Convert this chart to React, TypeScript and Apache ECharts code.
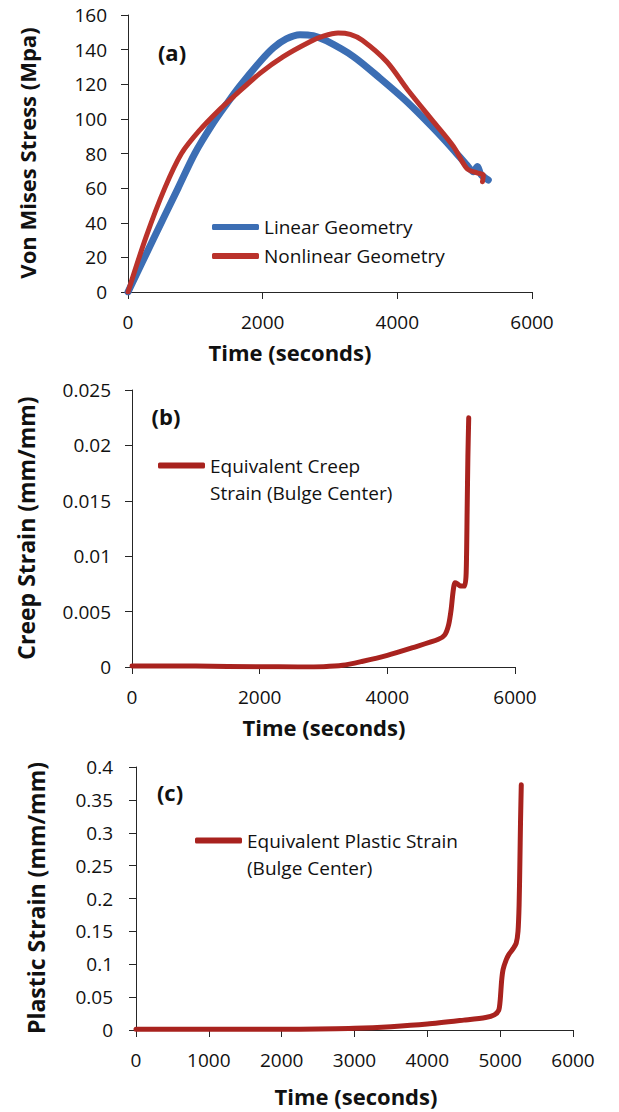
import React, { useEffect, useRef } from 'react';
import * as echarts from 'echarts';

const FONT = 'Open Sans';

// (a) Von Mises stress vs time
const timeLinear = [0, 370, 744, 992, 1265, 1463, 1662, 1960, 2158, 2350, 2554, 2750, 2951, 3348, 3745, 4142, 4538, 4836, 5034, 5130, 5190, 5240, 5351];
const stressLinear = [0, 30, 60, 80, 97.5, 108.5, 119, 133, 141, 146.2, 148.6, 148, 145, 136, 123.4, 109.9, 94.5, 82, 73.3, 69.5, 72.5, 68, 64.7];
const timeNonlinear = [0, 270, 546, 794, 1066, 1364, 1587, 1959, 2306, 2703, 2900, 3120, 3300, 3480, 3844, 4150, 4538, 4836, 5034, 5183, 5277, 5265];
const stressNonlinear = [0, 32, 60, 80, 93.5, 105.5, 113.5, 126.3, 136, 144.6, 147.8, 149.6, 148.8, 145.4, 133, 117, 98.3, 83.9, 71.3, 68.8, 67.5, 63.7];

// (b) creep strain vs time
const timeCreep = [0, 1000, 2000, 2600, 3000, 3300, 3600, 4000, 4400, 4800, 4900, 4960, 5000, 5030, 5060, 5100, 5150, 5210, 5235, 5250, 5262, 5275];
const creepStrain = [0.0001, 0.00008, 0.00002, 0.00001, 0.00003, 0.00015, 0.0005, 0.00105, 0.00175, 0.0025, 0.0029, 0.0038, 0.0052, 0.0068, 0.0076, 0.0075, 0.0073, 0.0073, 0.0085, 0.014, 0.019, 0.0225];

// (c) plastic strain vs time
const timePlastic = [0, 1000, 2000, 2500, 3000, 3500, 4000, 4500, 4800, 4920, 4980, 5000, 5020, 5040, 5080, 5120, 5180, 5220, 5245, 5260, 5270, 5280, 5290];
const plasticStrain = [0.001, 0.001, 0.001, 0.0015, 0.0025, 0.005, 0.009, 0.015, 0.019, 0.023, 0.03, 0.045, 0.075, 0.092, 0.106, 0.115, 0.124, 0.132, 0.15, 0.19, 0.25, 0.32, 0.373];

const seriesNames = {
  linear: 'Linear Geometry',
  nonlinear: 'Nonlinear Geometry',
  creep: 'Equivalent Creep\nStrain (Bulge Center)',
  plastic: 'Equivalent Plastic Strain\n(Bulge Center)',
};

const panelLabels = ['(a)', '(b)', '(c)'];
const xTitle = 'Time (seconds)';
const yTitles = ['Von Mises Stress (Mpa)', 'Creep Strain (mm/mm)', 'Plastic Strain (mm/mm)'];

const BLUE = '#3C6EB4';
const RED_A = '#BA322B';
const RED = '#A8221E';

function pairs(xs: number[], ys: number[]) {
  return xs.map((x, i) => [x, ys[i]]);
}

export default function App() {
  const ref = useRef<HTMLDivElement>(null);

  useEffect(() => {
    document.body.style.margin = '0';
    const chart = echarts.init(ref.current!, null, { renderer: 'svg' });

    const axisLine = { show: true, onZero: false, lineStyle: { color: '#262626', width: 1 } };
    const axisTick = { show: true, inside: false, length: 7, lineStyle: { color: '#262626', width: 1 } };
    const labelStyle = { color: '#111', fontSize: 19, fontFamily: FONT };

    const xAxis = (gridIndex: number, interval: number) => ({
      type: 'value',
      gridIndex,
      min: 0,
      max: 6000,
      interval,
      axisLine,
      axisTick,
      axisLabel: { ...labelStyle, margin: 20, formatter: (v: number) => String(v) },
      splitLine: { show: false },
    });
    const yAxis = (gridIndex: number, max: number, interval: number, margin: number) => ({
      type: 'value',
      gridIndex,
      min: 0,
      max,
      interval,
      axisLine,
      axisTick,
      axisLabel: { ...labelStyle, margin },
      splitLine: { show: false },
    });

    const lineSeries = (name: string, idx: number, data: number[][], color: string, width: number, smooth: number) => ({
      type: 'line',
      name,
      xAxisIndex: idx,
      yAxisIndex: idx,
      data,
      showSymbol: false,
      symbol: 'none',
      smooth,
      itemStyle: { color },
      lineStyle: { color, width, cap: 'round', join: 'round' },
    });

    const boldText = (text: string, x: number, y: number, rotation = 0, size = 22) => ({
      type: 'text',
      x,
      y,
      rotation,
      style: {
        text,
        fontSize: size,
        fontWeight: 'bold',
        fontFamily: FONT,
        fill: '#111',
        align: 'center',
        verticalAlign: 'middle',
      },
    });

    const legendBase = {
      orient: 'vertical',
      icon: 'roundRect',
      itemWidth: 47,
      itemHeight: 6,
      padding: 0,
      selectedMode: false,
    };

    chart.setOption({
      animation: false,
      textStyle: { fontFamily: FONT },
      grid: [
        { left: 128, top: 15, width: 404, height: 277, outerBoundsMode: 'none' },
        { left: 132, top: 390, width: 383, height: 277, outerBoundsMode: 'none' },
        { left: 136, top: 767, width: 437, height: 263, outerBoundsMode: 'none' },
      ],
      xAxis: [xAxis(0, 2000), xAxis(1, 2000), xAxis(2, 1000)],
      yAxis: [yAxis(0, 160, 20, 21), yAxis(1, 0.025, 0.005, 21), yAxis(2, 0.4, 0.05, 23)],
      legend: [
        {
          ...legendBase,
          data: [seriesNames.linear, seriesNames.nonlinear],
          left: 212,
          top: 215,
          itemGap: 5,
          textStyle: { ...labelStyle, lineHeight: 24 },
        },
        {
          ...legendBase,
          data: [seriesNames.creep],
          left: 158,
          top: 425,
          formatter: (name: string) => '\n' + name,
          textStyle: { ...labelStyle, lineHeight: 27 },
        },
        {
          ...legendBase,
          data: [seriesNames.plastic],
          left: 195,
          top: 800,
          formatter: (name: string) => '\n' + name,
          textStyle: { ...labelStyle, lineHeight: 27 },
        },
      ],
      series: [
        lineSeries(seriesNames.linear, 0, pairs(timeLinear, stressLinear), BLUE, 7, 0.3),
        lineSeries(seriesNames.nonlinear, 0, pairs(timeNonlinear, stressNonlinear), RED_A, 5, 0.3),
        lineSeries(seriesNames.creep, 1, pairs(timeCreep, creepStrain), RED, 5, 0.25),
        lineSeries(seriesNames.plastic, 2, pairs(timePlastic, plasticStrain), RED, 5, 0.25),
      ],
      graphic: [
        boldText(panelLabels[0], 172, 52),
        boldText(panelLabels[1], 166, 416),
        boldText(panelLabels[2], 170, 792),
        boldText(xTitle, 290, 352),
        boldText(xTitle, 324, 727),
        boldText(xTitle, 356, 1096),
        boldText(yTitles[0], 27, 153, Math.PI / 2, 22),
        boldText(yTitles[1], 26, 528, Math.PI / 2, 23),
        boldText(yTitles[2], 36, 898, Math.PI / 2, 23),
      ],
    });

    return () => chart.dispose();
  }, []);

  return <div ref={ref} style={{ width: 619, height: 1112 }} />;
}
